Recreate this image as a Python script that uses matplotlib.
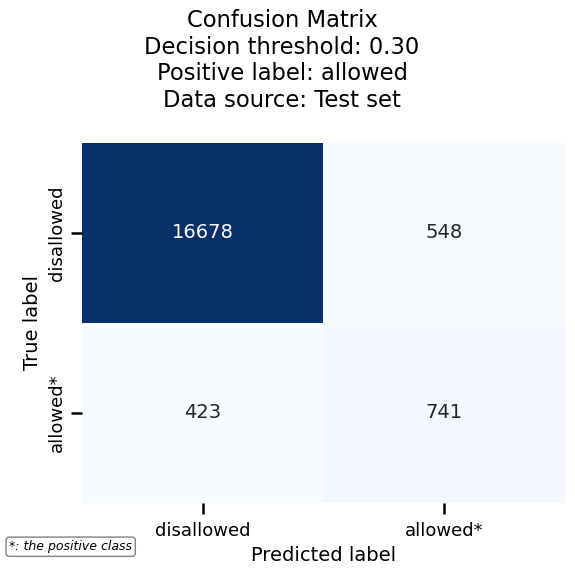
import matplotlib
matplotlib.use('Agg')
import matplotlib.pyplot as plt
import seaborn as sns
import numpy as np

# Data
class_labels = ['disallowed', 'allowed*']
counts = [[16678, 548],
          [423, 741]]

fig = plt.figure(figsize=(5.75, 5.69), dpi=100)
ax = fig.add_axes([0.1426, 0.116, 0.84, 0.6327])

cm = np.array(counts)
sns.heatmap(cm, annot=True, fmt='d', cmap='Blues', cbar=False, ax=ax,
            xticklabels=class_labels, yticklabels=class_labels,
            annot_kws={'fontsize': 14})

ax.set_title('Confusion Matrix\nDecision threshold: 0.30\nPositive label: allowed\nData source: Test set',
             fontsize=16.3, pad=26, x=0.414, linespacing=1.2)
ax.set_xlabel('Predicted label', fontsize=14)
ax.set_ylabel('True label', fontsize=14)
ax.tick_params(axis='both', labelsize=13, length=8, width=1.8, color='black')
ax.tick_params(axis='x', pad=6)
plt.setp(ax.get_yticklabels(), rotation=90, va='center')

fig.text(0.016, 0.033, '*: the positive class', fontsize=9, style='italic',
         bbox=dict(boxstyle='round,pad=0.25', facecolor='white', edgecolor='gray'))

plt.savefig('out.png', dpi=100)
